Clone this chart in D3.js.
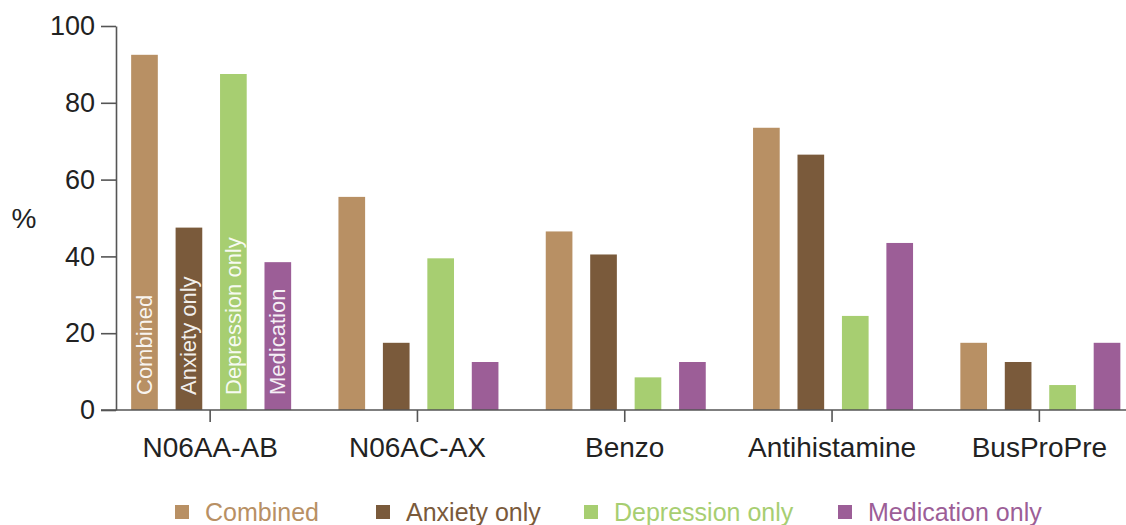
<!DOCTYPE html>
<html>
<head>
<meta charset="utf-8">
<script src="https://cdn.jsdelivr.net/npm/d3@7"></script>
<style>
  body { margin: 0; background: #fff; }
  svg { display: block; font-family: "Liberation Sans", Arial, sans-serif; }
</style>
</head>
<body>
<svg id="chart" width="1126" height="525"></svg>
<script>
const categories = ["N06AA-AB", "N06AC-AX", "Benzo", "Antihistamine", "BusProPre"];
const seriesNames = ["Combined", "Anxiety only", "Depression only", "Medication only"];
const barLabels = ["Combined", "Anxiety only", "Depression only", "Medication"];
const combined = [92.5, 55.5, 46.5, 73.5, 17.5];
const anxietyOnly = [47.5, 17.5, 40.5, 66.5, 12.5];
const depressionOnly = [87.5, 39.5, 8.5, 24.5, 6.5];
const medicationOnly = [38.5, 12.5, 12.5, 43.5, 17.5];
const yTicks = [0, 20, 40, 60, 80, 100];
const colors = ["#b89064", "#7a5a3b", "#a7ce71", "#9c5e97"];

const seriesValues = [combined, anxietyOnly, depressionOnly, medicationOnly];

const svg = d3.select("#chart");
const axisColor = "#555";
const textColor = "#222";

const y = d3.scaleLinear().domain([0, 100]).range([410, 26]);
const x0 = d3.scaleBand().domain(categories).range([106.5, 1143]);
const x1 = d3.scaleBand().domain(seriesNames).range([-79, 81]).paddingInner(0.4);

// bars
const groups = svg.selectAll("g.group")
  .data(categories)
  .join("g")
  .attr("class", "group")
  .attr("transform", d => `translate(${x0(d) + x0.bandwidth() / 2},0)`);

groups.selectAll("rect")
  .data((c, i) => seriesNames.map((s, j) => ({ s: s, j: j, v: seriesValues[j][i] })))
  .join("rect")
  .attr("x", d => x1(d.s))
  .attr("width", x1.bandwidth())
  .attr("y", d => y(d.v))
  .attr("height", d => y(0) - y(d.v))
  .attr("fill", d => colors[d.j]);

// rotated labels inside first group
const g0 = groups.filter((d, i) => i == 0);
g0.selectAll("text.inbar")
  .data(barLabels)
  .join("text")
  .attr("class", "inbar")
  .attr("transform", (d, j) => `translate(${x1(seriesNames[j]) + x1.bandwidth() / 2},${y(0) - 15}) rotate(-90)`)
  .attr("dominant-baseline", "central")
  .attr("fill", "#fff")
  .attr("fill-opacity", 0.92)
  .style("font-size", "22px")
  .text(d => d);

// y axis
const yAxis = svg.append("g")
  .attr("transform", "translate(116,0)")
  .call(d3.axisLeft(y).tickValues(yTicks).tickSize(15).tickSizeOuter(0).tickPadding(6));
yAxis.selectAll("path, line").attr("stroke", axisColor).attr("stroke-width", 1.6);
yAxis.selectAll("text").attr("fill", textColor).style("font-size", "27px").style("font-family", "Liberation Sans, Arial, sans-serif");

// x axis
const xAxis = svg.append("g")
  .attr("transform", "translate(0,410)")
  .call(d3.axisBottom(x0).tickSize(12).tickPadding(15));
xAxis.select(".domain").remove();
xAxis.append("line")
  .attr("x1", 101).attr("x2", 1126)
  .attr("stroke", axisColor).attr("stroke-width", 1.6);
xAxis.selectAll("line").attr("stroke", axisColor).attr("stroke-width", 1.6);
xAxis.selectAll("text").attr("fill", textColor).style("font-size", "28px").style("font-family", "Liberation Sans, Arial, sans-serif");

// y label
svg.append("text")
  .attr("x", 24).attr("y", 228)
  .attr("text-anchor", "middle")
  .attr("fill", textColor)
  .style("font-size", "28px")
  .text("%");

// legend
const legendX = [175, 376, 584, 838];
const legend = svg.selectAll("g.legend")
  .data(seriesNames)
  .join("g")
  .attr("class", "legend")
  .attr("transform", (d, i) => `translate(${legendX[i]},512)`);
legend.append("rect")
  .attr("x", 0).attr("y", -7)
  .attr("width", 14).attr("height", 14)
  .attr("fill", (d, i) => colors[i]);
legend.append("text")
  .attr("x", 30).attr("y", 8.5)
  .attr("fill", (d, i) => colors[i])
  .style("font-size", "25px")
  .text(d => d);
</script>
</body>
</html>
